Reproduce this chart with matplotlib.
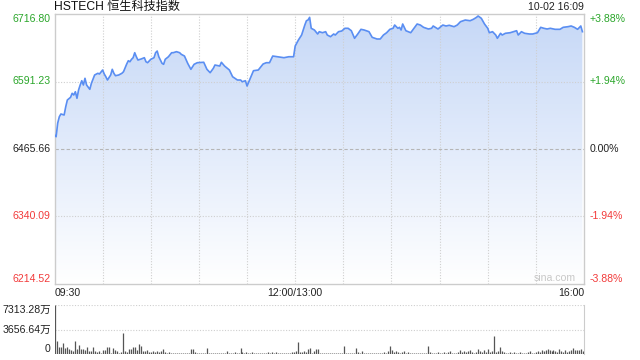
import numpy as np
import matplotlib
matplotlib.use("Agg")
from matplotlib import pyplot as plt
from matplotlib.patches import Polygon
from matplotlib.colors import LinearSegmentedColormap

plt.rcParams['font.family'] = ['Liberation Sans', 'Noto Sans CJK SC']

# 数据: 交易分钟(从09:30起, 午休不计) 与 指数点位
minutes = [0, 1, 2, 3, 4, 6, 7, 8, 10, 11, 12, 13, 14, 15, 16, 17, 18, 19, 20, 22,
           23, 25, 27, 28, 30, 31, 32, 33, 35, 36, 37, 38, 40, 42, 43, 45, 46, 47, 48, 49,
           50, 51, 52, 54, 56, 57, 58, 60, 62, 63, 64, 65, 67, 68, 69, 71, 73, 74, 76, 78,
           79, 81, 83, 85, 87, 89, 93, 95, 97, 99, 100, 103, 104, 106, 109, 111, 114, 116, 117, 119,
           120, 122, 124, 127, 130, 132, 134, 136, 139, 143, 146, 149, 150, 152, 154, 156, 157, 158, 159, 160,
           162, 164, 165, 167, 169, 170, 172, 174, 175, 177, 179, 181, 183, 185, 187, 189, 191, 193, 196, 198,
           201, 203, 205, 207, 209, 211, 212, 214, 215, 216, 217, 219, 222, 224, 226, 228, 230, 233, 235, 236,
           239, 242, 244, 246, 249, 251, 253, 256, 259, 261, 263, 264, 266, 268, 270, 271, 273, 275, 276, 278,
           279, 281, 284, 286, 288, 289, 291, 293, 296, 298, 301, 303, 305, 307, 309, 312, 315, 317, 320, 322,
           324, 326, 328, 329]
prices = [6491.7, 6488.5, 6514.0, 6525.7, 6530.8, 6528.9, 6544.3, 6556.8, 6561.8, 6569.3,
          6566.1, 6572.2, 6560.0, 6575.4, 6584.7, 6592.7, 6584.7, 6597.2, 6584.7, 6576.7,
          6587.9, 6603.3, 6606.5, 6605.2, 6612.6, 6605.2, 6600.1, 6594.0, 6603.3, 6613.9,
          6606.5, 6602.0, 6603.3, 6606.5, 6609.4, 6623.8, 6629.9, 6628.0, 6632.5, 6635.5,
          6644.8, 6637.3, 6631.2, 6633.1, 6635.5, 6628.0, 6626.2, 6632.5, 6635.5, 6644.8,
          6647.9, 6637.3, 6625.1, 6623.2, 6632.5, 6637.3, 6644.8, 6644.8, 6646.7, 6644.8,
          6641.8, 6638.6, 6625.1, 6613.9, 6623.2, 6626.2, 6627.0, 6613.9, 6607.6, 6615.8,
          6621.9, 6620.0, 6627.0, 6620.0, 6612.6, 6600.1, 6594.0, 6594.0, 6590.8, 6592.7,
          6582.8, 6597.2, 6611.3, 6612.6, 6623.8, 6626.2, 6626.2, 6638.6, 6637.3, 6635.5,
          6637.3, 6637.3, 6657.2, 6668.4, 6677.7, 6696.3, 6704.3, 6705.6, 6710.6, 6690.2,
          6687.0, 6679.6, 6683.9, 6682.0, 6683.9, 6677.7, 6674.6, 6679.6, 6677.7, 6683.9,
          6685.2, 6690.2, 6690.2, 6685.7, 6671.6, 6679.6, 6688.3, 6687.0, 6683.9, 6673.4,
          6670.3, 6670.3, 6677.7, 6682.0, 6688.3, 6690.2, 6696.3, 6690.2, 6692.0, 6687.0,
          6698.2, 6685.7, 6682.0, 6690.2, 6698.2, 6696.3, 6692.0, 6688.9, 6690.2, 6694.5,
          6688.9, 6696.3, 6694.5, 6695.8, 6693.2, 6696.3, 6702.5, 6705.6, 6704.3, 6706.9,
          6710.6, 6713.1, 6708.8, 6698.2, 6690.2, 6682.0, 6683.9, 6677.7, 6671.6, 6680.9,
          6677.7, 6680.9, 6682.0, 6683.9, 6685.7, 6677.7, 6683.9, 6680.9, 6679.6, 6679.6,
          6682.0, 6692.0, 6690.2, 6688.9, 6690.2, 6688.3, 6688.3, 6692.0, 6693.2, 6694.5,
          6692.0, 6688.3, 6694.5, 6683.9]

# 成交量(万)
volume = [7313, 1990, 995, 1095, 1690, 846, 1095, 697, 597, 497, 1990, 697, 1343, 697, 697, 597,
          995, 497, 497, 1095, 497, 348, 497, 199, 597, 597, 1095, 1095, 199, 846, 597, 497,
          199, 348, 3184, 497, 348, 697, 697, 1095, 1095, 597, 1493, 1194, 497, 497, 597, 348,
          348, 497, 348, 497, 348, 497, 697, 348, 199, 348, 100, 199, 199, 100, 199, 100,
          199, 100, 100, 199, 697, 697, 348, 199, 100, 199, 100, 199, 846, 199, 100, 199,
          199, 100, 199, 199, 100, 199, 497, 100, 199, 199, 348, 199, 199, 846, 348, 199,
          348, 199, 199, 348, 199, 199, 100, 199, 199, 100, 199, 348, 199, 348, 199, 348,
          199, 100, 199, 100, 199, 100, 199, 348, 348, 497, 1841, 348, 348, 497, 348, 697,
          846, 199, 497, 697, 697, 100,
          199, 100, 100, 100, 199, 199, 100, 199, 199, 100, 199, 1194, 199, 100, 199, 100,
          199, 846, 348, 199, 497, 199, 100, 199, 100, 199, 199, 100, 199, 100, 199, 348,
          199, 497, 1194, 597, 348, 497, 348, 199, 348, 497, 199, 348, 199, 100, 199, 100,
          199, 100, 199, 100, 199, 1194, 348, 199, 100, 199, 348, 199, 100, 348, 199, 348,
          497, 199, 100, 199, 348, 597, 348, 497, 348, 497, 597, 348, 199, 348, 697, 497,
          348, 597, 348, 697, 348, 497, 2687, 348, 497, 995, 497, 348, 199, 100, 348, 199,
          348, 199, 100, 348, 199, 100, 199, 348, 497, 100, 199, 348, 497, 348, 597, 497,
          597, 697, 597, 497, 597, 497, 348, 697, 497, 348, 597, 348, 497, 597, 846, 597,
          597, 597, 697, 497]

prev_close = 6465.66
price_ticks = [6214.52, 6340.09, 6465.66, 6591.23, 6716.80]
pct_labels = ['-3.88%', '-1.94%', '0.00%', '+1.94%', '+3.88%']
vol_ticks = [0, 3656.64, 7313.28]
vol_labels = ['0', '3656.64万', '7313.28万']
time_labels = ['09:30', '12:00/13:00', '16:00']
time_pos = [0, 150, 330]

green = '#2aa62a'
red = '#f23a3a'
grid_c = '#cfcfcf'
border_c = '#cccccc'

fig = plt.figure(figsize=(6.4, 3.6), dpi=100)
ax = fig.add_axes([54.5 / 640, 1 - 284 / 360, 529.5 / 640, 270 / 360])
ymin, ymax = price_ticks[0], price_ticks[-1]
ax.set_xlim(0, 330)
ax.set_ylim(ymin, ymax)

# 渐变填充
cmap = LinearSegmentedColormap.from_list('g', ['#ffffff', '#c6d8f7'])
grad = np.linspace(0, 1, 256).reshape(-1, 1)
im = ax.imshow(grad, extent=[0, 330, ymin, ymax], origin='lower', aspect='auto', cmap=cmap, zorder=1)
verts = [(minutes[0], ymin)] + list(zip(minutes, prices)) + [(minutes[-1], ymin)]
poly = Polygon(verts, closed=True, facecolor='none', edgecolor='none')
ax.add_patch(poly)
im.set_clip_path(poly)
ax.plot(minutes, prices, color='#5a8ef2', lw=1.2, zorder=3)

# 网格
for m in range(30, 330, 30):
    ax.axvline(m, color=grid_c, lw=0.8, ls=(0, (1, 1.5)), zorder=2)
for v in [price_ticks[1], price_ticks[3]]:
    ax.axhline(v, color=grid_c, lw=0.8, ls=(0, (1, 1.5)), zorder=2)
ax.axhline(prev_close, color='#b5b5b5', lw=0.8, ls=(0, (3, 2)), zorder=2)

ax.set_xticks([])
ax.set_yticks([])
for s in ax.spines.values():
    s.set_color(border_c)
    s.set_linewidth(1)

# 左右刻度
colors = [red, red, '#222222', green, green]
vas = ['bottom', 'center', 'center', 'center', 'top']
ytr = ax.get_yaxis_transform()
for v, lab, c, va in zip(price_ticks, pct_labels, colors, vas):
    ax.text(-0.007, v, '%.2f' % v, transform=ytr, ha='right', va=va, color=c, fontsize=7.6)
    ax.text(1.01, v, lab, transform=ytr, ha='left', va=va, color=c, fontsize=7.6)

xtr = ax.get_xaxis_transform()
for p, lab, ha in zip(time_pos, time_labels, ['left', 'center', 'right']):
    ax.text(p, -0.033, lab, transform=xtr, ha=ha, va='center', color='#222222', fontsize=7.6)

ax.text(0, 1.025, 'HSTECH 恒生科技指数', transform=ax.transAxes, ha='left', va='center',
        color='#111111', fontsize=8.7)
ax.text(1, 1.025, '10-02 16:09', transform=ax.transAxes, ha='right', va='center',
        color='#222222', fontsize=7.6)
ax.text(0.985, 0.022, 'sina.com', transform=ax.transAxes, ha='right', va='center',
        color='#c8c8c8', fontsize=7.6)

# 成交量
ax2 = fig.add_axes([54.5 / 640, 6 / 360, 529.5 / 640, 49 / 360])
vx = np.arange(len(volume))
ax2.vlines(vx, 0, volume, color='#555555', lw=0.9, zorder=3)
ax2.set_xlim(-0.3, len(volume) - 0.7)
ax2.set_ylim(0, vol_ticks[-1])
ax2.axhline(vol_ticks[1], color=grid_c, lw=0.8, ls=(0, (1, 1.5)))
ax2.axhline(vol_ticks[2], color=grid_c, lw=0.8, ls=(0, (1, 1.5)))
ax2.set_xticks([])
ax2.set_yticks([])
for k in ['top', 'left', 'bottom']:
    ax2.spines[k].set_visible(False)
ax2.spines['right'].set_color(border_c)
vtr = ax2.get_yaxis_transform()
for v, lab, va in zip(vol_ticks, vol_labels, ['bottom', 'center', 'top']):
    ax2.text(-0.007, v, lab, transform=vtr, ha='right', va=va, color='#222222', fontsize=7.6)

fig.savefig('out.png', dpi=100)
